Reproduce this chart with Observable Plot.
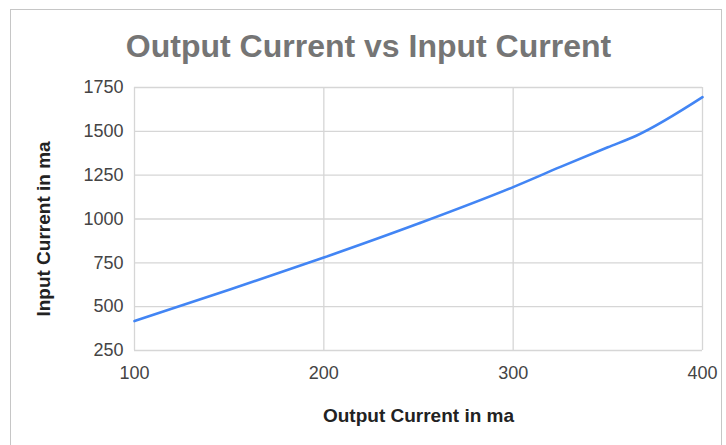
<!DOCTYPE html>
<html>
<head>
<meta charset="utf-8">
<script src="https://cdn.jsdelivr.net/npm/d3@7"></script>
<script src="https://cdn.jsdelivr.net/npm/@observablehq/plot@0.6"></script>
<style>
  html, body { margin: 0; padding: 0; background: #fff; }
  #wrap { position: relative; width: 726px; height: 445px; overflow: hidden; }
  #frame { position: absolute; left: 10px; top: 9px; width: 712px; height: 450px; border: 1px solid #c6c6c6; box-sizing: border-box; }
  #chart { position: absolute; left: 0; top: 0; }
</style>
</head>
<body>
<div id="wrap"><div id="frame"></div><div id="chart"></div></div>
<script>
const title = "Output Current vs Input Current";
const xLabel = "Output Current in ma";
const yLabel = "Input Current in ma";
const outputCurrent = [100, 150, 200, 250, 300, 325, 350, 365, 400];
const inputCurrent  = [418, 596, 780, 974, 1182, 1297, 1409, 1475, 1695];
const xTicks = [100, 200, 300, 400];
const yTicks = [250, 500, 750, 1000, 1250, 1500, 1750];

const data = outputCurrent.map((x, i) => ({x, y: inputCurrent[i]}));
const font = "Liberation Sans, Arial, Helvetica, sans-serif";
const fmt = d3.format("d");

const chart = Plot.plot({
  width: 726,
  height: 445,
  marginLeft: 134,
  marginRight: 24,
  marginTop: 87,
  marginBottom: 95,
  style: {fontFamily: font, fontSize: "18px", color: "#444", background: "transparent", overflow: "visible"},
  x: {domain: [100, 400], label: null},
  y: {domain: [250, 1750], label: null},
  marks: [
    Plot.gridX(xTicks, {stroke: "#d6d6d6", strokeOpacity: 1, strokeWidth: 1.3}),
    Plot.gridY(yTicks, {stroke: "#d6d6d6", strokeOpacity: 1, strokeWidth: 1.3}),
    Plot.axisX(xTicks, {tickSize: 0, tickPadding: 16, tickFormat: fmt, fill: "#444", fontSize: 18}),
    Plot.axisY(yTicks, {tickSize: 0, tickPadding: 11, tickFormat: fmt, fill: "#444", fontSize: 18}),
    Plot.line(data, {x: "x", y: "y", stroke: "#4285f4", strokeWidth: 2.6, curve: "monotone-x"}),
    Plot.text([title], {text: d => d, frameAnchor: "top", dx: -50, dy: -41, lineAnchor: "middle",
      fontSize: 32, fontWeight: "bold", fill: "#757575"}),
    Plot.text([xLabel], {text: d => d, frameAnchor: "bottom", dy: 65, lineAnchor: "middle",
      fontSize: 19, fontWeight: "bold", fill: "#222"}),
    Plot.text([yLabel], {text: d => d, frameAnchor: "left", dx: -91, dy: 10, rotate: -90,
      textAnchor: "middle", lineAnchor: "middle",
      fontSize: 19, fontWeight: "bold", fill: "#222"})
  ]
});
document.getElementById("chart").appendChild(chart);
</script>
</body>
</html>
